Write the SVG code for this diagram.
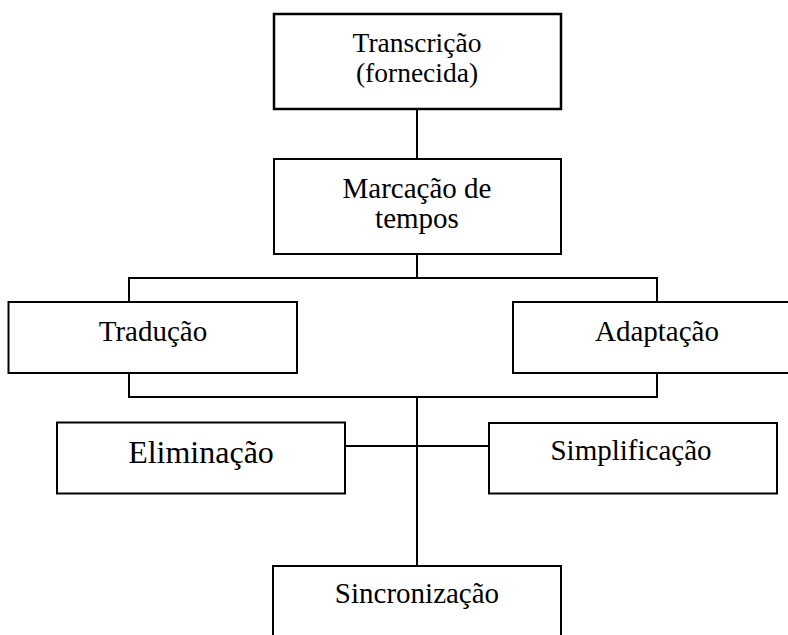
<svg xmlns="http://www.w3.org/2000/svg" width="788" height="635" viewBox="0 0 788 635">
<style>
.box{fill:#fff;stroke:#000;stroke-width:2}
.t{font-family:"Liberation Serif","Times New Roman",serif;font-size:29px;fill:#000;text-anchor:middle}
.c{fill:none;stroke:#000;stroke-width:2}
</style>
<rect width="788" height="635" fill="#fff"/>
<g id="connectors">
<line class="c" x1="417" y1="109" x2="417" y2="159"/>
<line class="c" x1="417" y1="254" x2="417" y2="278"/>
<polyline class="c" points="129,302 129,278 657,278 657,302"/>
<polyline class="c" points="129,373 129,397 657,397 657,373"/>
<line class="c" x1="417" y1="397" x2="417" y2="566"/>
<line class="c" x1="345" y1="446" x2="489" y2="446"/>
</g>
<g id="n-transcricao">
<rect class="box" x="274" y="14" width="287" height="95" style="stroke-width:2.5"/>
<text class="t" x="417" y="52" style="font-size:27.5px">Transcrição</text>
<text class="t" x="417" y="82" style="font-size:27.5px">(fornecida)</text>
</g>
<g id="n-marcacao">
<rect class="box" x="274" y="159" width="287" height="95"/>
<text class="t" x="417" y="198">Marcação de</text>
<text class="t" x="417" y="228">tempos</text>
</g>
<g id="n-traducao">
<rect class="box" x="8.5" y="302" width="288.5" height="71"/>
<text class="t" x="153" y="341">Tradução</text>
</g>
<g id="n-adaptacao">
<rect class="box" x="513" y="302" width="290" height="71"/>
<text class="t" x="657" y="341">Adaptação</text>
</g>
<g id="n-eliminacao">
<rect class="box" x="57" y="422.5" width="288" height="71"/>
<text class="t" x="201" y="463" style="font-size:32px">Eliminação</text>
</g>
<g id="n-simplificacao">
<rect class="box" x="489" y="423" width="288" height="70.5"/>
<text class="t" x="631" y="460">Simplificação</text>
</g>
<g id="n-sincronizacao">
<rect class="box" x="273" y="566" width="288" height="80"/>
<text class="t" x="417" y="603">Sincronização</text>
</g>
</svg>
